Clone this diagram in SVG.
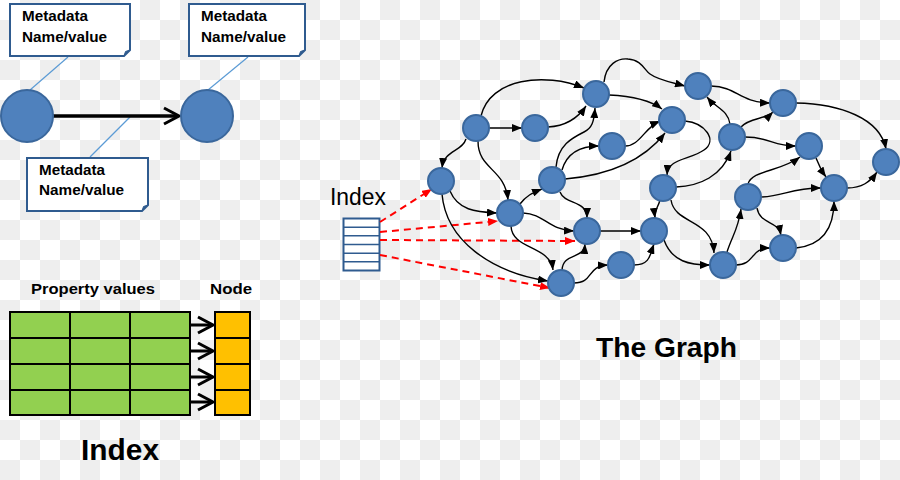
<svg xmlns="http://www.w3.org/2000/svg" width="900" height="480" viewBox="0 0 900 480">
<defs>
<pattern id="chk" width="40" height="40" patternUnits="userSpaceOnUse">
<rect width="40" height="40" fill="#ffffff"/>
<rect x="20" y="0" width="20" height="20" fill="#eeeeee"/>
<rect x="0" y="20" width="20" height="20" fill="#eeeeee"/>
</pattern>
<marker id="ah" markerUnits="userSpaceOnUse" markerWidth="10" markerHeight="8" refX="10" refY="4" orient="auto">
<path d="M0,0 L10,4 L0,8 z" fill="#000"/>
</marker>
<marker id="ahr" markerUnits="userSpaceOnUse" markerWidth="10" markerHeight="8" refX="10" refY="4" orient="auto">
<path d="M0,0 L10,4 L0,8 z" fill="#ff0000"/>
</marker>
</defs>
<style>
.t{font-family:"Liberation Sans",Arial,sans-serif;font-weight:bold;fill:#000}
.n{fill:#4f81bd;stroke:#3a679c;stroke-width:2}
.e{fill:none;stroke:#000;stroke-width:1.4;marker-end:url(#ah)}
.r{fill:none;stroke:#ff0000;stroke-width:2;stroke-dasharray:7 5;marker-end:url(#ahr)}
.box{fill:#fff;stroke:#2f5b8f;stroke-width:2}
.fold{fill:#2f5b8f;stroke:#2f5b8f;stroke-width:1}
.cl{stroke:#5b9bd5;stroke-width:1.2;fill:none}
.g{fill:#92d050;stroke:#000;stroke-width:2}
.o{fill:#ffc000;stroke:#000;stroke-width:2}
.chev{fill:none;stroke:#000;stroke-width:3;stroke-linejoin:miter}
</style>
<rect width="900" height="480" fill="url(#chk)"/>

<!-- Top-left metadata example -->
<g id="callout-lines">
<line class="cl" x1="68" y1="57" x2="30" y2="90"/>
<line class="cl" x1="248" y1="57" x2="208" y2="90"/>
<line class="cl" x1="90" y1="157" x2="130" y2="117"/>
</g>
<g id="meta1">
<path class="box" d="M10,4 H130 V50 L124,56 H10 Z"/>
<path class="fold" d="M124,56 L125.5,51.5 L130,50 Z"/>
<text class="t" x="22" y="21" font-size="14" textLength="66" lengthAdjust="spacingAndGlyphs">Metadata</text>
<text class="t" x="22" y="42" font-size="14" textLength="85" lengthAdjust="spacingAndGlyphs">Name/value</text>
</g>
<g id="meta2">
<path class="box" d="M189,4 H305 V50 L299,56 H189 Z"/>
<path class="fold" d="M299,56 L300.5,51.5 L305,50 Z"/>
<text class="t" x="201" y="21" font-size="14" textLength="66" lengthAdjust="spacingAndGlyphs">Metadata</text>
<text class="t" x="201" y="42" font-size="14" textLength="85" lengthAdjust="spacingAndGlyphs">Name/value</text>
</g>
<g id="meta3">
<path class="box" d="M27,158 H148 V205 L142,211 H27 Z"/>
<path class="fold" d="M142,211 L143.5,206.5 L148,205 Z"/>
<text class="t" x="39" y="175" font-size="14" textLength="66" lengthAdjust="spacingAndGlyphs">Metadata</text>
<text class="t" x="39" y="195" font-size="14" textLength="85" lengthAdjust="spacingAndGlyphs">Name/value</text>
</g>
<g id="example-edge">
<line x1="53" y1="116" x2="178" y2="116" stroke="#000" stroke-width="3.5"/>
<path class="chev" d="M164,108 L179,116 L164,124" stroke-width="3.5"/>
</g>
<g id="ex-node1"><circle class="n" cx="27" cy="116" r="26"/></g>
<g id="ex-node2"><circle class="n" cx="207" cy="116" r="26"/></g>

<!-- Bottom-left index table -->
<g id="index-table">
<text class="t" x="31" y="294" font-size="15" textLength="124" lengthAdjust="spacingAndGlyphs">Property values</text>
<text class="t" x="210" y="294" font-size="15" textLength="42" lengthAdjust="spacingAndGlyphs">Node</text>
<rect class="g" x="10" y="312" width="180" height="103"/>
<g stroke="#000" stroke-width="2">
<line x1="70" y1="312" x2="70" y2="415"/>
<line x1="130" y1="312" x2="130" y2="415"/>
<line x1="10" y1="338" x2="190" y2="338"/>
<line x1="10" y1="364" x2="190" y2="364"/>
<line x1="10" y1="390" x2="190" y2="390"/>
</g>
<rect class="o" x="215" y="312" width="35" height="103"/>
<g stroke="#000" stroke-width="2">
<line x1="215" y1="338" x2="250" y2="338"/>
<line x1="215" y1="364" x2="250" y2="364"/>
<line x1="215" y1="390" x2="250" y2="390"/>
</g>
<g stroke="#000" stroke-width="3" fill="none">
<line x1="190" y1="325" x2="212" y2="325"/><path class="chev" d="M198,317 L213,325 L198,333"/>
<line x1="190" y1="351" x2="212" y2="351"/><path class="chev" d="M198,343 L213,351 L198,359"/>
<line x1="190" y1="377" x2="212" y2="377"/><path class="chev" d="M198,369 L213,377 L198,385"/>
<line x1="190" y1="402" x2="212" y2="402"/><path class="chev" d="M198,394 L213,402 L198,410"/>
</g>
<text class="t" x="81" y="460" font-size="30" textLength="78" lengthAdjust="spacingAndGlyphs">Index</text>
</g>

<!-- Graph index -->
<g id="graph-index">
<text x="330" y="205" font-family="Liberation Sans, Arial, sans-serif" font-size="23" fill="#000" textLength="56" lengthAdjust="spacingAndGlyphs">Index</text>
<rect x="343.5" y="218.5" width="36" height="52" fill="#fff" stroke="#2f5b8f" stroke-width="2"/>
<g stroke="#2f5b8f" stroke-width="1.6">
<line x1="343.5" y1="227.2" x2="379.5" y2="227.2"/>
<line x1="343.5" y1="235.8" x2="379.5" y2="235.8"/>
<line x1="343.5" y1="244.5" x2="379.5" y2="244.5"/>
<line x1="343.5" y1="253.2" x2="379.5" y2="253.2"/>
<line x1="343.5" y1="261.8" x2="379.5" y2="261.8"/>
</g>
</g>

<g id="connectors">
<path class="r" d="M380,222 L432,189"/>
<path class="r" d="M380,232 L498,221"/>
<path class="r" d="M380,240 L575,241"/>
<path class="r" d="M380,255 L550,288"/>

<path class="e" d="M481,116 C490,78 545,72 584,88"/>
<path class="e" d="M489,128 L522,128"/>
<path class="e" d="M548,127 C566,126 578,118 586,106"/>
<path class="e" d="M604,82 C606,64 618,58 628,59 C642,60 644,70 650,74 C658,80 670,82 685,86"/>
<path class="e" d="M609,95 C630,96 650,100 662,109"/>
<path class="e" d="M556,167 C558,145 572,138 584,132 C592,128 594,122 595,108"/>
<path class="e" d="M562,170 C566,156 576,146 599,146"/>
<path class="e" d="M625,146 C640,146 644,128 660,121"/>
<path class="e" d="M565,179 C600,176 640,165 665,133"/>
<path class="e" d="M466,139 C462,152 444,150 442,168"/>
<path class="e" d="M478,141 C478,170 505,168 508,200"/>
<path class="e" d="M450,191 C458,210 475,212 497,213"/>
<path class="e" d="M442,194 C446,240 490,272 548,281"/>
<path class="e" d="M520,204 C526,196 532,193 542,189"/>
<path class="e" d="M523,213 C545,214 548,230 574,231"/>
<path class="e" d="M511,226 C512,250 550,245 553,270"/>
<path class="e" d="M560,192 C565,205 587,200 587,218"/>
<path class="e" d="M562,270 C563,252 584,260 585,244"/>
<path class="e" d="M600,231 L641,231"/>
<path class="e" d="M574,283 C594,283 586,266 608,265"/>
<path class="e" d="M634,265 C650,265 650,255 654,244"/>
<path class="e" d="M660,200 C658,208 654,210 655,218"/>
<path class="e" d="M711,86 C738,87 738,102 770,103"/>
<path class="e" d="M730,124 C728,110 716,108 707,97"/>
<path class="e" d="M741,127 C750,117 765,120 773,112"/>
<path class="e" d="M745,137 C770,137 772,146 796,146"/>
<path class="e" d="M796,103 C840,104 880,118 886,149"/>
<path class="e" d="M685,121 C705,123 718,140 704,150 C690,160 668,158 667,175"/>
<path class="e" d="M676,187 C700,186 722,176 731,151"/>
<path class="e" d="M748,184 C752,170 780,172 800,157"/>
<path class="e" d="M816,158 C819,166 821,170 826,177"/>
<path class="e" d="M847,188 C862,188 870,182 877,172"/>
<path class="e" d="M761,197 C785,196 790,188 821,188"/>
<path class="e" d="M757,208 C760,225 778,220 781,235"/>
<path class="e" d="M727,252 C732,236 738,230 741,209"/>
<path class="e" d="M736,265 C755,265 750,248 770,248"/>
<path class="e" d="M796,248 C825,245 834,225 834,201"/>
<path class="e" d="M671,200 C675,225 712,218 714,253"/>
<path class="e" d="M664,240 C672,262 690,265 710,265"/>
</g>

<g id="nA"><circle class="n" cx="441" cy="181" r="13"/></g>
<g id="nB"><circle class="n" cx="476" cy="128" r="13"/></g>
<g id="nC"><circle class="n" cx="535" cy="128" r="13"/></g>
<g id="nD"><circle class="n" cx="596" cy="94" r="13"/></g>
<g id="nE"><circle class="n" cx="698" cy="86" r="13"/></g>
<g id="nF"><circle class="n" cx="783" cy="103" r="13"/></g>
<g id="nG"><circle class="n" cx="672" cy="120" r="13"/></g>
<g id="nH"><circle class="n" cx="732" cy="137" r="13"/></g>
<g id="nI"><circle class="n" cx="612" cy="146" r="13"/></g>
<g id="nJ"><circle class="n" cx="809" cy="146" r="13"/></g>
<g id="nK"><circle class="n" cx="886" cy="162" r="13"/></g>
<g id="nL"><circle class="n" cx="552" cy="180" r="13"/></g>
<g id="nM"><circle class="n" cx="663" cy="188" r="13"/></g>
<g id="nN"><circle class="n" cx="834" cy="188" r="13"/></g>
<g id="nO"><circle class="n" cx="748" cy="197" r="13"/></g>
<g id="nP"><circle class="n" cx="510" cy="213" r="13"/></g>
<g id="nQ"><circle class="n" cx="587" cy="231" r="13"/></g>
<g id="nR"><circle class="n" cx="654" cy="231" r="13"/></g>
<g id="nS"><circle class="n" cx="783" cy="248" r="13"/></g>
<g id="nT"><circle class="n" cx="723" cy="265" r="13"/></g>
<g id="nU"><circle class="n" cx="621" cy="265" r="13"/></g>
<g id="nV"><circle class="n" cx="561" cy="283" r="13"/></g>

<g id="title">
<text class="t" x="596" y="357" font-size="28" textLength="141" lengthAdjust="spacingAndGlyphs">The Graph</text>
</g>
</svg>
